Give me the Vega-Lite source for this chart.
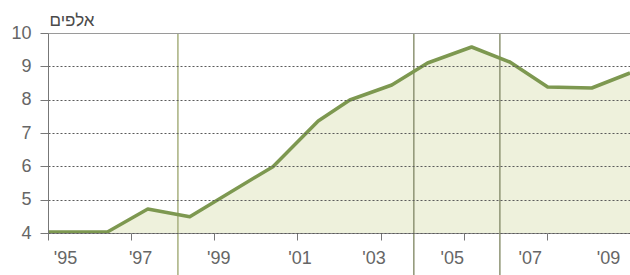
{
  "$schema": "https://vega.github.io/schema/vega-lite/v6.json",
  "width": 582,
  "height": 200,
  "autosize": {"type": "none"},
  "padding": {"left": 48, "top": 33, "right": 0, "bottom": 42},
  "background": "#ffffff",
  "config": {
    "view": {"stroke": null},
    "font": "Liberation Sans",
    "axis": {"labelFont": "Liberation Sans", "titleFont": "Liberation Sans"}
  },
  "datasets": {
    "series": [
      {"year": 1995.0, "value": 4.03},
      {"year": 1996.44, "value": 4.04},
      {"year": 1997.4, "value": 4.72},
      {"year": 1998.41, "value": 4.49},
      {"year": 2000.41, "value": 5.99},
      {"year": 2001.5, "value": 7.36},
      {"year": 2002.26, "value": 7.99},
      {"year": 2003.27, "value": 8.44},
      {"year": 2004.13, "value": 9.1},
      {"year": 2005.19, "value": 9.58},
      {"year": 2006.11, "value": 9.13},
      {"year": 2007.02, "value": 8.38},
      {"year": 2008.08, "value": 8.35},
      {"year": 2009.0, "value": 8.8}
    ],
    "markers": [
      {"year": 1998.125, "value": 10, "bottom": 2.74, "kind": "a"},
      {"year": 2003.8, "value": 10, "bottom": 2.74, "kind": "b"},
      {"year": 2005.87, "value": 10, "bottom": 2.74, "kind": "b"}
    ]
  },
  "encoding": {
    "x": {
      "field": "year", "type": "quantitative",
      "scale": {"domain": [1995, 2009], "nice": false, "zero": false},
      "axis": {
        "values": [1995, 1997, 1999, 2001, 2003, 2005, 2007, 2009],
        "labelExpr": "\"'\" + substring(toString(datum.value), 2, 4)",
        "title": null,
        "grid": false,
        "domainColor": "#8a8a8a",
        "domainWidth": 1,
        "tickColor": "#777777",
        "tickSize": 7,
        "labelFontSize": 18,
        "labelColor": "#666666",
        "labelPadding": 9,
        "labelAlign": "center",
        "labelFlush": false,
        "labelOverlap": false,
        "labelOffset": {
          "condition": [
            {"test": "datum.value == 1995", "value": 17},
            {"test": "datum.value == 1997", "value": 9},
            {"test": "datum.value == 1999", "value": 4},
            {"test": "datum.value == 2001", "value": 2},
            {"test": "datum.value == 2003", "value": -7},
            {"test": "datum.value == 2005", "value": -12},
            {"test": "datum.value == 2007", "value": -17}
          ],
          "value": -22
        }
      }
    },
    "y": {
      "field": "value", "type": "quantitative",
      "scale": {"domain": [4, 10], "nice": false, "zero": false},
      "axis": {
        "values": [4, 5, 6, 7, 8, 9, 10],
        "zindex": 1,
        "title": "אלפים",
        "titleAngle": 0,
        "titleAlign": "left",
        "titleBaseline": "middle",
        "titleX": 1,
        "titleY": -13,
        "titleFontSize": 17,
        "titleFontWeight": "normal",
        "titleColor": "#4a4a4a",
        "domainColor": "#777777",
        "domainWidth": 1,
        "tickColor": "#777777",
        "tickSize": 8,
        "labelFontSize": 18,
        "labelColor": "#666666",
        "labelPadding": 9,
        "labelOverlap": false,
        "grid": true,
        "gridColor": {"condition": {"test": "datum.value == 10", "value": "#9a9a9a"}, "value": "#5a5a5a"},
        "gridDash": {"condition": {"test": "datum.value == 10", "value": []}, "value": [2, 2]},
        "gridWidth": 1
      }
    }
  },
  "layer": [
    {
      "data": {"name": "series"},
      "mark": {"type": "area", "color": "#eef1dc", "clip": true},
      "encoding": {"y2": {"datum": 4}}
    },
    {
      "data": {"name": "markers"},
      "mark": {"type": "rule", "clip": false, "strokeWidth": 1.5},
      "encoding": {
        "y2": {"field": "bottom"},
        "color": {
          "field": "kind", "type": "nominal",
          "scale": {"domain": ["a", "b"], "range": ["#a7b07f", "#8e9474"]},
          "legend": null
        }
      }
    },
    {
      "data": {"name": "series"},
      "mark": {"type": "line", "color": "#7d9850", "strokeWidth": 3.5, "strokeJoin": "round", "clip": true},
      "encoding": {}
    }
  ]
}
